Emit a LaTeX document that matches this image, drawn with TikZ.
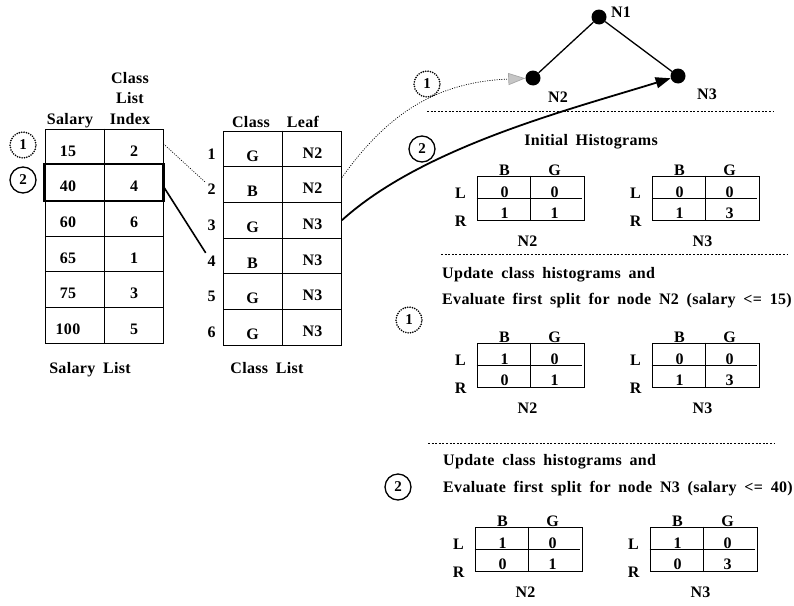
\documentclass[tikz,border=0pt]{standalone}
\usepackage{fontspec}
\setmainfont{Liberation Serif}[WordSpace=1.8, LetterSpace=2]
\usepackage{xcolor}
\usetikzlibrary{positioning, arrows.meta, calc}

\tikzset{
    txt/.style={font=\bfseries\fontsize{16}{18}\selectfont, inner sep=0pt, text height=10.5pt, text depth=0pt},
    rowbox/.style={draw, line width=0.9pt, minimum width=118pt, minimum height=35.67pt, inner sep=0pt},
    histbox/.style={draw, line width=0.9pt, minimum width=107pt, minimum height=44pt, inner sep=0pt},
    sepline/.style={line width=0.8pt, dash pattern=on 2pt off 1.6pt},
    stepmark/.style={circle, draw, line width=1.3pt, minimum size=26pt, inner sep=0pt, font=\bfseries\fontsize{15}{17}\selectfont},
    dotmark/.style={stepmark, line width=1.8pt, line cap=round, dash pattern=on 0pt off 2.4pt},
    treenode/.style={circle, fill=black, minimum size=15pt, inner sep=0pt},
    dotlink/.style={line width=0.7pt, dash pattern=on 1pt off 1.4pt},
}

\begin{document}
\begin{tikzpicture}[x=1pt, y=-1pt]
    \useasboundingbox (0,0) rectangle (794,605);

    % salary list
    \node[txt] (hcls) at (130,78) {Class};
    \node[txt] (hlst) at (130,98) {List};
    \node[txt] (hidx) at (130,119) {Index};
    \node[txt] (hsal) at (70,119) {Salary};
    \foreach \s/\c [count=\i] in {15/2, 40/4, 60/6, 65/1, 75/3, 100/5} {
        \node[rowbox] (srow\i) at (104, {111.17+35.67*\i}) {};
        \node[txt] (sal\i) at ($(srow\i)+(-36,4)$) {\s};
        \node[txt] (idx\i) at ($(srow\i)+(30,4)$) {\c};
    }
    \draw[line width=0.9pt] (srow1.north) -- (srow6.south);
    \draw[line width=2.4pt] (srow2.north west) rectangle (srow2.south east);
    \node[txt] (sallist) at (90,368) {Salary List};
    \node[dotmark] (mark1a) at (23,145) {1};
    \node[stepmark] (mark2a) at (23,180) {2};

    % class list
    \node[txt] (hclass) at (251,122) {Class};
    \node[txt] (hleaf) at (303,122) {Leaf};
    \foreach \c/\l [count=\i] in {G/N2, B/N2, G/N3, B/N3, G/N3, G/N3} {
        \node[rowbox] (crow\i) at (282.5, {113.17+35.67*\i}) {};
        \node[txt] (num\i) at ($(crow\i)+(-71,5)$) {\i};
        \node[txt] (cls\i) at ($(crow\i)+(-30,7)$) {\c};
        \node[txt] (leaf\i) at ($(crow\i)+(30,4)$) {\l};
    }
    \draw[line width=0.9pt] (crow1.north) -- (crow6.south);
    \node[txt] (clslist) at (267,368) {Class List};

    \draw[dotlink, shorten >=2pt] ([yshift=3pt]srow1.east) -- (num2.north west);
    \draw[line width=1.6pt, shorten >=3pt] ([yshift=-4pt]srow2.east) -- (num4.north west);

    % tree
    \node[treenode] (n1) at (599,17) {};
    \node[treenode] (n2) at (533,78) {};
    \node[treenode] (n3) at (678,76) {};
    \node[txt] (n1lab) at (621,12) {N1};
    \node[txt] (n2lab) at (558,97) {N2};
    \node[txt] (n3lab) at (707,94) {N3};
    \draw[line width=1.3pt] (n2) -- (n1) -- (n3);

    \draw[dotlink, -{Triangle[length=17pt, width=12pt, fill=gray!45, color=gray!70]}]
        ([yshift=7pt]crow2.east) .. controls (390,110) and (440,82) .. (n2);
    \draw[line width=1.8pt, -{Triangle[length=15pt, width=11pt]}]
        (crow3.east) .. controls (423,147) and (568,110) .. (n3);
    \node[dotmark, fill=white] (mark1b) at (427,84) {1};
    \node[stepmark, fill=white] (mark2b) at (422,149) {2};

    % histograms
    \draw[sepline] (427,111) -- (773,111);
    \draw[sepline] (441,254) -- (787,254);
    \draw[sepline] (428,443) -- (775,443);
    \node[txt] (init) at (591,140) {Initial Histograms};
    \node[txt, anchor=west] (upd1) at (442,273) {Update class histograms and};
    \node[txt, anchor=west] (eval1) at (442,299) {Evaluate first split for node N2 (salary <= 15)};
    \node[dotmark] (mark1c) at (409,320) {1};
    \node[txt, anchor=west] (upd2) at (443,460) {Update class histograms and};
    \node[txt, anchor=west] (eval2) at (443,487) {Evaluate first split for node N3 (salary <= 40)};
    \node[stepmark] (mark2c) at (398,487) {2};

    \foreach \x/\y/\nm/\a/\b/\c/\d [count=\k] in {477/176/N2/0/0/1/1, 652/176/N3/0/0/1/3,
            477/343/N2/1/0/0/1, 652/343/N3/0/0/1/3, 475/527/N2/1/0/0/1, 650/527/N3/1/0/0/3} {
        \node[histbox] (hist\k) at (\x+53.5, \y+22) {};
        \draw[line width=0.9pt] (hist\k.north) -- (hist\k.south);
        \draw[line width=0.9pt] (hist\k.west) -- ([xshift=-2pt]hist\k.east);
        \node[txt] (hb\k) at ($(hist\k.north)+(-26,-5)$) {B};
        \node[txt] (hg\k) at ($(hist\k.north)+(24,-5)$) {G};
        \node[txt] (hl\k) at ($(hist\k.west)+(-16,-5)$) {L};
        \node[txt] (hr\k) at ($(hist\k.west)+(-16,23)$) {R};
        \node[txt] (va\k) at ($(hist\k)+(-26,-6)$) {\a};
        \node[txt] (vb\k) at ($(hist\k)+(24,-6)$) {\b};
        \node[txt] (vc\k) at ($(hist\k)+(-26,15)$) {\c};
        \node[txt] (vd\k) at ($(hist\k)+(24,15)$) {\d};
        \node[txt] (hn\k) at ($(hist\k.south)+(-3,21)$) {\nm};
    }
\end{tikzpicture}
\end{document}
